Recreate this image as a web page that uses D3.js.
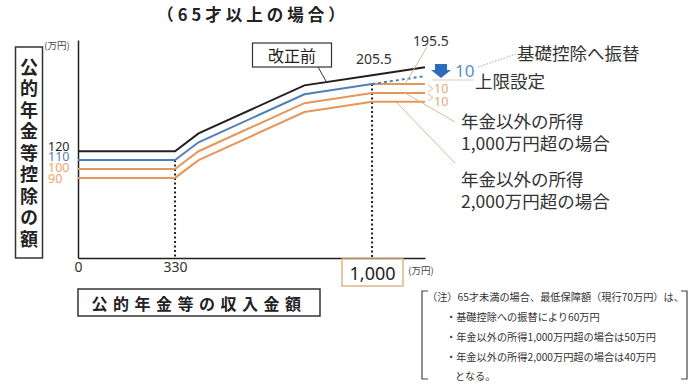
<!DOCTYPE html>
<html><head><meta charset="utf-8">
<script src="https://cdn.jsdelivr.net/npm/d3@7"></script>
<style>
body{margin:0;background:#fff;}
svg{display:block;font-family:"Noto Sans CJK JP","Noto Sans",sans-serif;}
</style></head>
<body><svg id="c" width="700" height="391"></svg>
<script>
// ---- data ----
const incomes = [0, 330, 410, 770, 1000, 1180];
const beforeReform = [120, 120, 140, 194, 205.5, 214.5];
const afterReform = [110, 110, 130, 184, 195.5];      // solid up to 1,000
const afterUncapped = [195.5, 204.5];                  // dotted beyond 1,000
const capLine = [195.5, 195.5];                        // 上限設定
const over1000 = [100, 100, 120, 174, 185.5, 185.5];
const over2000 = [90, 90, 110, 164, 175.5, 175.5];
const yTicks = [120, 110, 100, 90];
const xTicks = [0, 330];
const xMarker = 1000;
const valueLabels = ["205.5", "195.5"];
const stepLabels = ["10", "10", "10"];
const noteLines = [
  "（注）65才未満の場合、最低保障額（現行70万円）は、",
  "・基礎控除への振替により60万円",
  "・年金以外の所得1,000万円超の場合は50万円",
  "・年金以外の所得2,000万円超の場合は40万円",
  "となる。"
];

const BLACK = "#231f20", BLUE = "#4f7fb8", ORANGE = "#e59659", LORANGE = "#eea56a", TAN = "#d8b896", TXT = "#333";

const svg = d3.select("#c");
const x = d3.scaleLinear().domain([0, 1180]).range([78, 425]);
const y = d3.scaleLinear().domain([0, 245]).range([258, 40]);
const line = d3.line().x(d => x(d[0])).y(d => y(d[1]));
const zip = (xs, ys) => ys.map((v, i) => [xs[i], v]);

// title
svg.append("text").attr("x", 253).attr("y", 14).attr("text-anchor", "middle")
  .attr("dominant-baseline", "central").attr("font-size", 16.5).attr("font-weight", "bold")
  .attr("letter-spacing", 4).attr("fill", "#222").text("（65才以上の場合）");

// axes
const yAxis = svg.append("g").attr("transform", `translate(${x(0)},0)`)
  .call(d3.axisLeft(y).tickValues(yTicks).tickSize(0).tickSizeOuter(0));
yAxis.select(".domain").attr("stroke", BLACK).attr("stroke-width", 1.5);
const tickColors = [BLACK, BLUE, LORANGE, LORANGE];
yAxis.selectAll(".tick text")
  .attr("text-anchor", "start").attr("x", -30)
  .attr("font-family", "Noto Sans, sans-serif").attr("font-size", 12.5)
  .attr("fill", (d, i) => tickColors[i])
  .attr("dy", "0.35em")
  .attr("transform", (d, i) => `translate(0,${(y(yTicks[0]) - 5.5 + i * 10.9) - y(d)})`);

const xAxis = svg.append("g").attr("transform", `translate(0,${y(0)})`)
  .call(d3.axisBottom(x).tickValues(xTicks).tickSize(0).tickSizeOuter(0).tickFormat(d3.format("d")));
xAxis.select(".domain").attr("stroke", BLACK).attr("stroke-width", 1.5);
xAxis.selectAll(".tick text").attr("font-family", "Noto Sans, sans-serif").attr("font-size", 14)
  .attr("fill", TXT).attr("y", 4).attr("dy", "0.71em");

// units
svg.append("text").attr("x", 57).attr("y", 45).attr("text-anchor", "middle").attr("dominant-baseline", "central")
  .attr("font-size", 9.5).attr("fill", "#444").text("(万円)");
svg.append("text").attr("x", 421).attr("y", 270).attr("text-anchor", "middle").attr("dominant-baseline", "central")
  .attr("font-size", 9.5).attr("fill", "#444").text("(万円)");

// y label box (vertical)
svg.append("rect").attr("x", 15.5).attr("y", 47).attr("width", 27).attr("height", 211)
  .attr("fill", "none").attr("stroke", "#333").attr("stroke-width", 1.5);
svg.append("text").attr("x", 29).attr("y", 58)
  .style("writing-mode", "vertical-rl").attr("letter-spacing", 3.5)
  .attr("font-size", 18).attr("font-weight", "bold").attr("fill", "#222").text("公的年金等控除の額");

// x label box
svg.append("rect").attr("x", 78).attr("y", 289).attr("width", 242).attr("height", 27)
  .attr("fill", "none").attr("stroke", "#333").attr("stroke-width", 1.5);
svg.append("text").attr("x", 199).attr("y", 303).attr("text-anchor", "middle").attr("dominant-baseline", "central")
  .attr("font-size", 16).attr("font-weight", "bold").attr("letter-spacing", 5.5).attr("fill", "#222")
  .text("公的年金等の収入金額");

// 1,000 marker box
svg.append("rect").attr("x", 342).attr("y", 259).attr("width", 61).attr("height", 27)
  .attr("fill", "#fff").attr("stroke", "#e0b48c").attr("stroke-width", 1.5);
svg.append("text").attr("x", x(xMarker) + 0.5).attr("y", 273).attr("text-anchor", "middle").attr("dominant-baseline", "central")
  .attr("font-family", "Noto Sans, sans-serif").attr("font-size", 18).attr("fill", "#222").text(d3.format(",")(xMarker));

// dotted verticals
[[xTicks[1], afterReform[1]], [xMarker, afterReform[4]]].forEach(([xv, yv]) => {
  svg.append("line").attr("x1", x(xv)).attr("x2", x(xv)).attr("y1", y(yv)).attr("y2", y(0))
    .attr("stroke", BLACK).attr("stroke-width", 2).attr("stroke-dasharray", "2,2.5");
});

// series
const path = (pts, color, dash) => svg.append("path").attr("d", line(pts)).attr("fill", "none")
  .attr("stroke", color).attr("stroke-width", 2).attr("stroke-dasharray", dash || null);
path(zip(incomes, over2000), ORANGE);
path(zip(incomes, over1000), ORANGE);
path(zip(incomes.slice(4), capLine), ORANGE);
path(zip(incomes, afterReform), BLUE);
path(zip(incomes.slice(4), afterUncapped), BLUE, "3,3");
path(zip(incomes, beforeReform), BLACK);

// 改正前 label
svg.append("rect").attr("x", 252.5).attr("y", 43).attr("width", 79).attr("height", 24)
  .attr("fill", "#fff").attr("stroke", "#333").attr("stroke-width", 1.2);
svg.append("text").attr("x", 292).attr("y", 55).attr("text-anchor", "middle").attr("dominant-baseline", "central")
  .attr("font-size", 16).attr("fill", "#222").text("改正前");
svg.append("line").attr("x1", 318).attr("y1", 67).attr("x2", 326).attr("y2", y(beforeReform[3] + 0.04 * 120))
  .attr("stroke", "#333").attr("stroke-width", 1);

// value labels
svg.append("text").attr("x", 374).attr("y", 58).attr("text-anchor", "middle").attr("dominant-baseline", "central")
  .attr("font-family", "Noto Sans, sans-serif").attr("font-size", 14).attr("fill", "#333").text(valueLabels[0]);
svg.append("text").attr("x", 431).attr("y", 40).attr("text-anchor", "middle").attr("dominant-baseline", "central")
  .attr("font-family", "Noto Sans, sans-serif").attr("font-size", 14).attr("fill", "#333").text(valueLabels[1]);
svg.append("line").attr("x1", 427).attr("y1", 47).attr("x2", 405).attr("y2", y(capLine[0]))
  .attr("stroke", TAN).attr("stroke-width", 1);

// blue arrow + 10
svg.append("path").attr("d", "M435,64 H447 V70 H451 L441,78 L431,70 H435 Z").attr("fill", "#2e6bbf");
svg.append("text").attr("x", 455).attr("y", 70).attr("dominant-baseline", "central")
  .attr("font-family", "Noto Sans, sans-serif").attr("font-size", 17).attr("fill", "#5b8ec6").text(stepLabels[0]);
svg.append("line").attr("x1", 478).attr("y1", 67).attr("x2", 516).attr("y2", 54)
  .attr("stroke", "#8fb0d8").attr("stroke-width", 1).attr("stroke-dasharray", "1.5,1.5");
svg.append("line").attr("x1", 432).attr("y1", 80).attr("x2", 474).attr("y2", 80)
  .attr("stroke", "#e6cdb2").attr("stroke-width", 1);

// orange 10 labels + brackets
[[capLine[0], over1000[5]], [over1000[5], over2000[5]]].forEach(([a, b], i) => {
  const ya = y(a) + 1.5, yb = y(b) - 1.5, ym = (ya + yb) / 2;
  svg.append("path").attr("d", `M428,${ya} Q431,${ya} 431,${ya + 2} V${ym - 1} L433,${ym} L431,${ym + 1} V${yb - 2} Q431,${yb} 428,${yb}`)
    .attr("fill", "none").attr("stroke", "#e3b088").attr("stroke-width", 0.8);
  svg.append("text").attr("x", 434).attr("y", ym + i * 4).attr("dominant-baseline", "central")
    .attr("font-family", "Noto Sans, sans-serif").attr("font-size", 12.5).attr("fill", "#e6a877").text(stepLabels[i + 1]);
});

// annotations
const ann = (xx, yy, t) => svg.append("text").attr("x", xx).attr("y", yy).attr("dominant-baseline", "central")
  .attr("font-size", 17.5).attr("fill", TXT).text(t);
ann(517, 52, "基礎控除へ振替");
ann(475, 80, "上限設定");
ann(461, 120, "年金以外の所得");
ann(461, 142, "1,000万円超の場合");
ann(461, 178, "年金以外の所得");
ann(461, 200, "2,000万円超の場合");
svg.append("line").attr("x1", 405).attr("y1", y(over1000[5])).attr("x2", 455).attr("y2", 122)
  .attr("stroke", TAN).attr("stroke-width", 1);
svg.append("line").attr("x1", 396).attr("y1", y(over2000[5])).attr("x2", 455).attr("y2", 163)
  .attr("stroke", TAN).attr("stroke-width", 1);

// note box
svg.append("path").attr("d", "M428,291 H422 V379 H428 M681,291 H687 V379 H681")
  .attr("fill", "none").attr("stroke", "#444").attr("stroke-width", 1.2);
const nx = [427, 446, 446, 446, 455], ny = [296, 316, 336, 356, 375];
svg.append("g").selectAll("text").data(noteLines).join("text")
  .attr("x", (d, i) => nx[i]).attr("y", (d, i) => ny[i]).attr("dominant-baseline", "central")
  .attr("font-size", 10.2).attr("fill", TXT).text(d => d);
</script></body></html>
